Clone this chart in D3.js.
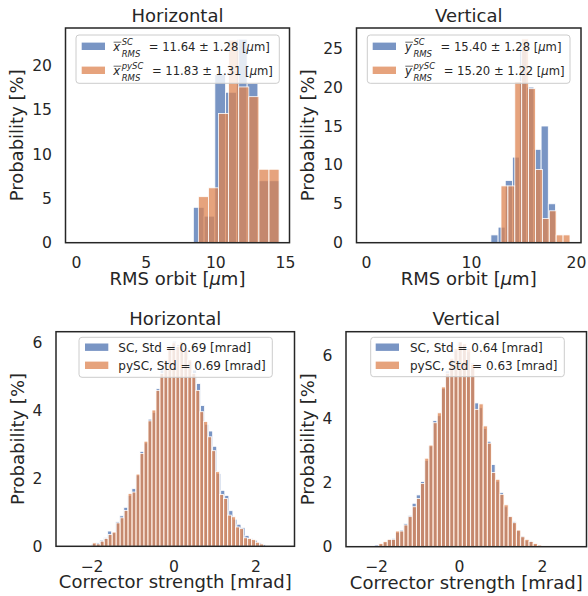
<!DOCTYPE html>
<html><head><meta charset="utf-8">
<script src="https://cdn.jsdelivr.net/npm/d3@7"></script>
<style>
body{margin:0;background:#fff}
svg{display:block}
text{font-family:"DejaVu Sans",sans-serif;fill:#262626}
</style>
</head><body>
<svg id="c" width="588" height="596"></svg>
<script>
// ---------------- DATA ----------------
const seriesNames = ["SC", "pySC"];
const seriesColors = ["#4c72b0", "#dd8452"];

// Top-left: horizontal RMS orbit [um], probability [%]
const hOrbitScStart = 8.42, hOrbitScWidth = 0.772;
const hOrbitSc = [4, 3, 19, 17, 23, 18, 7, 7];
const hOrbitPyStart = 8.78, hOrbitPyWidth = 0.724;
const hOrbitPy = [5.2, 6.2, 14.6, 22.9, 17.6, 16.5, 8.3, 8.3];

// Top-right: vertical RMS orbit [um]
const vOrbitScStart = 11.9, vOrbitScWidth = 0.683;
const vOrbitSc = [1, 2, 8, 11, 25, 20, 12, 15, 5];
const vOrbitPyStart = 12.86, vOrbitPyWidth = 0.657;
const vOrbitPy = [7.3, 7.3, 20.7, 26.2, 19.8, 9.4, 3.1, 4.1, 1.0, 1.0];

// Bottom-left: horizontal corrector strength [mrad]
const hCorrScStart = -2.0, hCorrScWidth = 0.0985;
const hCorrSc = [0.08, 0.10, 0.18, 0.25, 0.45, 0.40, 0.72, 0.90, 1.15, 1.50, 1.70, 2.10, 2.80, 3.05, 3.75, 3.95, 4.65, 5.20, 5.45, 5.90, 6.05, 5.95, 5.98, 5.85, 5.45, 5.20, 4.80, 4.15, 3.60, 3.40, 2.95, 2.15, 1.65, 1.50, 1.05, 0.80, 0.65, 0.55, 0.32, 0.22, 0.18, 0.10, 0.05];
const hCorrPyStart = -1.98, hCorrPyWidth = 0.097;
const hCorrPy = [0.10, 0.07, 0.15, 0.23, 0.35, 0.42, 0.69, 0.84, 1.06, 1.56, 1.60, 2.13, 2.74, 3.10, 3.70, 4.02, 4.60, 5.10, 5.50, 5.85, 6.00, 5.90, 6.04, 5.80, 5.50, 5.10, 4.60, 3.97, 3.68, 3.23, 2.82, 2.20, 1.53, 1.41, 0.92, 0.87, 0.57, 0.52, 0.25, 0.23, 0.20, 0.12, 0.07];

// Bottom-right: vertical corrector strength [mrad]
const vCorrScStart = -2.03, vCorrScWidth = 0.1;
const vCorrSc = [0.05, 0.08, 0.14, 0.22, 0.26, 0.45, 0.52, 0.72, 0.98, 1.36, 1.62, 2.04, 2.70, 3.15, 3.95, 4.10, 4.95, 5.50, 5.85, 6.15, 6.42, 6.30, 6.10, 5.75, 4.50, 4.35, 3.70, 3.30, 2.57, 2.05, 1.70, 1.25, 0.95, 0.78, 0.50, 0.33, 0.20, 0.18, 0.08, 0.02];
const vCorrPyStart = -1.93, vCorrPyWidth = 0.1005;
const vCorrPy = [0.10, 0.16, 0.23, 0.23, 0.49, 0.49, 0.68, 0.94, 1.25, 1.51, 1.98, 2.77, 3.18, 3.88, 4.19, 5.00, 5.43, 5.90, 6.20, 6.41, 6.35, 6.20, 5.70, 4.30, 4.47, 3.78, 3.24, 2.32, 2.11, 1.64, 1.31, 0.94, 0.75, 0.52, 0.31, 0.23, 0.16, 0.10, 0.05];

// ticks
const orbitHXTicks = [0, 5, 10, 15];
const orbitHYTicks = [0, 5, 10, 15, 20];
const orbitVXTicks = [0, 10, 20];
const orbitVYTicks = [0, 5, 10, 15, 20, 25];
const corrXTicks = [-2, 0, 2];
const corrYTicks = [0, 2, 4, 6];

// texts
const panelTitles = ["Horizontal", "Vertical", "Horizontal", "Vertical"];
const xLabelParts = [["RMS orbit [", "μ", "m]"], ["RMS orbit [", "μ", "m]"], ["Corrector strength [mrad]", "", ""], ["Corrector strength [mrad]", "", ""]];
const yLabel = "Probability [%]";
const orbitHStats = ["= 11.64 ± 1.28 [", "= 11.83 ± 1.31 ["];
const orbitVStats = ["= 15.40 ± 1.28 [", "= 15.20 ± 1.22 ["];
const corrHLegend = ["SC, Std = 0.69 [mrad]", "pySC, Std = 0.69 [mrad]"];
const corrVLegend = ["SC, Std = 0.64 [mrad]", "pySC, Std = 0.63 [mrad]"];

// ---------------- DRAW ----------------
const svg = d3.select("#c");
const fmt = d => d < 0 ? "\u2212" + Math.abs(d) : String(d);

function panel(cfg) {
  const g = svg.append("g");
  const x = d3.scaleLinear().domain(cfg.xDomain).range([cfg.left, cfg.right]);
  const y = d3.scaleLinear().domain(cfg.yDomain).range([cfg.bottom, cfg.top]);
  cfg.series.forEach((s, k) => {
    g.append("g").selectAll("rect").data(s.values).join("rect")
      .attr("x", (d, i) => x(s.start + i * s.width))
      .attr("width", (d, i) => x(s.start + (i + 1) * s.width) - x(s.start + i * s.width))
      .attr("y", d => y(d))
      .attr("height", d => y(0) - y(d))
      .attr("fill", seriesColors[k]).attr("fill-opacity", 0.75)
      .attr("stroke", "#fff").attr("stroke-width", 0.8);
  });
  const xa = g.append("g").attr("transform", `translate(0,${cfg.bottom})`)
    .call(d3.axisBottom(x).tickValues(cfg.xTicks).tickSize(0).tickPadding(14.5).tickFormat(fmt));
  const ya = g.append("g").attr("transform", `translate(${cfg.left},0)`)
    .call(d3.axisLeft(y).tickValues(cfg.yTicks).tickSize(0).tickPadding(13.5).tickFormat(fmt));
  [xa, ya].forEach(a => {
    a.attr("font-family", null).attr("font-size", null);
    a.select(".domain").remove();
    a.selectAll("text").attr("font-size", 15.6).attr("fill", "#262626");
  });
  // frame
  g.append("rect").attr("x", cfg.left).attr("y", cfg.top)
    .attr("width", cfg.right - cfg.left).attr("height", cfg.bottom - cfg.top)
    .attr("fill", "none").attr("stroke", "#262626").attr("stroke-width", 1.5);
  // title
  const cx = (cfg.left + cfg.right) / 2, cy = (cfg.top + cfg.bottom) / 2;
  g.append("text").attr("x", cx).attr("y", cfg.top - 6.3).attr("text-anchor", "middle")
    .attr("font-size", 18).text(cfg.title);
  const xl = g.append("text").attr("x", cx).attr("y", cfg.bottom + 41.8).attr("text-anchor", "middle")
    .attr("font-size", 18);
  xl.append("tspan").text(cfg.xLabel[0]);
  if (cfg.xLabel[1]) {
    xl.append("tspan").attr("font-style", "italic").text(cfg.xLabel[1]);
    xl.append("tspan").text(cfg.xLabel[2]);
  }
  const bb = ya.node().getBBox();
  const lx = cfg.left + bb.x - 9;
  g.append("text").attr("transform", `translate(${lx},${cy}) rotate(-90)`)
    .attr("text-anchor", "middle").attr("font-size", 18).text(yLabel);
  return g;
}

function legendBox(g, box) {
  g.append("rect").attr("x", box[0]).attr("y", box[1]).attr("width", box[2] - box[0]).attr("height", box[3] - box[1])
    .attr("rx", 3).attr("fill", "#fff").attr("fill-opacity", 0.8).attr("stroke", "#cccccc").attr("stroke-width", 1);
}

function mathLegend(g, box, patchX, textX, rowsY, sym, stats) {
  legendBox(g, box);
  const fs = 11.6, sfs = 8.5;
  seriesNames.forEach((name, k) => {
    const cy = rowsY[k];
    g.append("rect").attr("x", patchX).attr("y", cy - 3.7).attr("width", 23.3).attr("height", 7.4)
      .attr("fill", seriesColors[k]).attr("fill-opacity", 0.75);
    const base = cy + 4.2;
    const t = g.append("text").attr("x", textX).attr("y", base).attr("font-size", fs)
      .attr("font-style", "italic").text(sym);
    const w = t.node().getComputedTextLength();
    g.append("line").attr("x1", textX + 0.3).attr("x2", textX + w + 1.2)
      .attr("y1", base - 8.3).attr("y2", base - 8.3).attr("stroke", "#262626").attr("stroke-width", 0.7);
    const sx = textX + w + 1.5;
    const sp = g.append("text").attr("x", sx).attr("y", base - 5.5).attr("font-size", sfs)
      .attr("font-style", "italic").text(name);
    const sb = g.append("text").attr("x", sx).attr("y", base + 6.2).attr("font-size", sfs)
      .attr("font-style", "italic").text("RMS");
    const ew = Math.max(sp.node().getComputedTextLength(), sb.node().getComputedTextLength());
    const r = g.append("text").attr("x", sx + ew + 8.5).attr("y", base).attr("font-size", fs);
    r.append("tspan").text(stats[k]);
    r.append("tspan").attr("font-style", "italic").text("μ");
    r.append("tspan").text("m]");
  });
}

function plainLegend(g, box, patchX, textX, rowsY, labels) {
  legendBox(g, box);
  seriesNames.forEach((name, k) => {
    const cy = rowsY[k];
    g.append("rect").attr("x", patchX).attr("y", cy - 3.7).attr("width", 23.3).attr("height", 7.4)
      .attr("fill", seriesColors[k]).attr("fill-opacity", 0.75);
    g.append("text").attr("x", textX).attr("y", cy + 4.4).attr("font-size", 12).text(labels[k]);
  });
}

const p1 = panel({
  left: 65.5, right: 289.5, top: 28, bottom: 242.7,
  xDomain: [-0.754, 15.32], yDomain: [0, 24.26],
  xTicks: orbitHXTicks, yTicks: orbitHYTicks, title: panelTitles[0], xLabel: xLabelParts[0],
  series: [
    {start: hOrbitScStart, width: hOrbitScWidth, values: hOrbitSc},
    {start: hOrbitPyStart, width: hOrbitPyWidth, values: hOrbitPy}
  ]
});
mathLegend(p1, [76, 35, 279.3, 83.3], 81.7, 113.3, [46.3, 70.3], "x", orbitHStats);

const p2 = panel({
  left: 356.5, right: 581, top: 28, bottom: 242.7,
  xDomain: [-0.905, 20.48], yDomain: [0, 27.6],
  xTicks: orbitVXTicks, yTicks: orbitVYTicks, title: panelTitles[1], xLabel: xLabelParts[1],
  series: [
    {start: vOrbitScStart, width: vOrbitScWidth, values: vOrbitSc},
    {start: vOrbitPyStart, width: vOrbitPyWidth, values: vOrbitPy}
  ]
});
mathLegend(p2, [367.3, 35, 570, 83.3], 372.7, 405, [46.3, 70.3], "y", orbitVStats);

const p3 = panel({
  left: 56, right: 294.5, top: 331.7, bottom: 546.3,
  xDomain: [-2.866, 2.951], yDomain: [0, 6.33],
  xTicks: corrXTicks, yTicks: corrYTicks, title: panelTitles[2], xLabel: xLabelParts[2],
  series: [
    {start: hCorrScStart, width: hCorrScWidth, values: hCorrSc},
    {start: hCorrPyStart, width: hCorrPyWidth, values: hCorrPy}
  ]
});
plainLegend(p3, [79, 337.3, 272.3, 377.3], 85, 118.3, [347.2, 365.3], corrHLegend);

const p4 = panel({
  left: 346, right: 586.5, top: 331.7, bottom: 546.7,
  xDomain: [-2.723, 3.072], yDomain: [0, 6.73],
  xTicks: corrXTicks, yTicks: corrYTicks, title: panelTitles[3], xLabel: xLabelParts[3],
  series: [
    {start: vCorrScStart, width: vCorrScWidth, values: vCorrSc},
    {start: vCorrPyStart, width: vCorrPyWidth, values: vCorrPy}
  ]
});
plainLegend(p4, [370.7, 337.3, 564.3, 376.7], 375.7, 410, [347.2, 365.3], corrVLegend);
</script>
</body></html>
